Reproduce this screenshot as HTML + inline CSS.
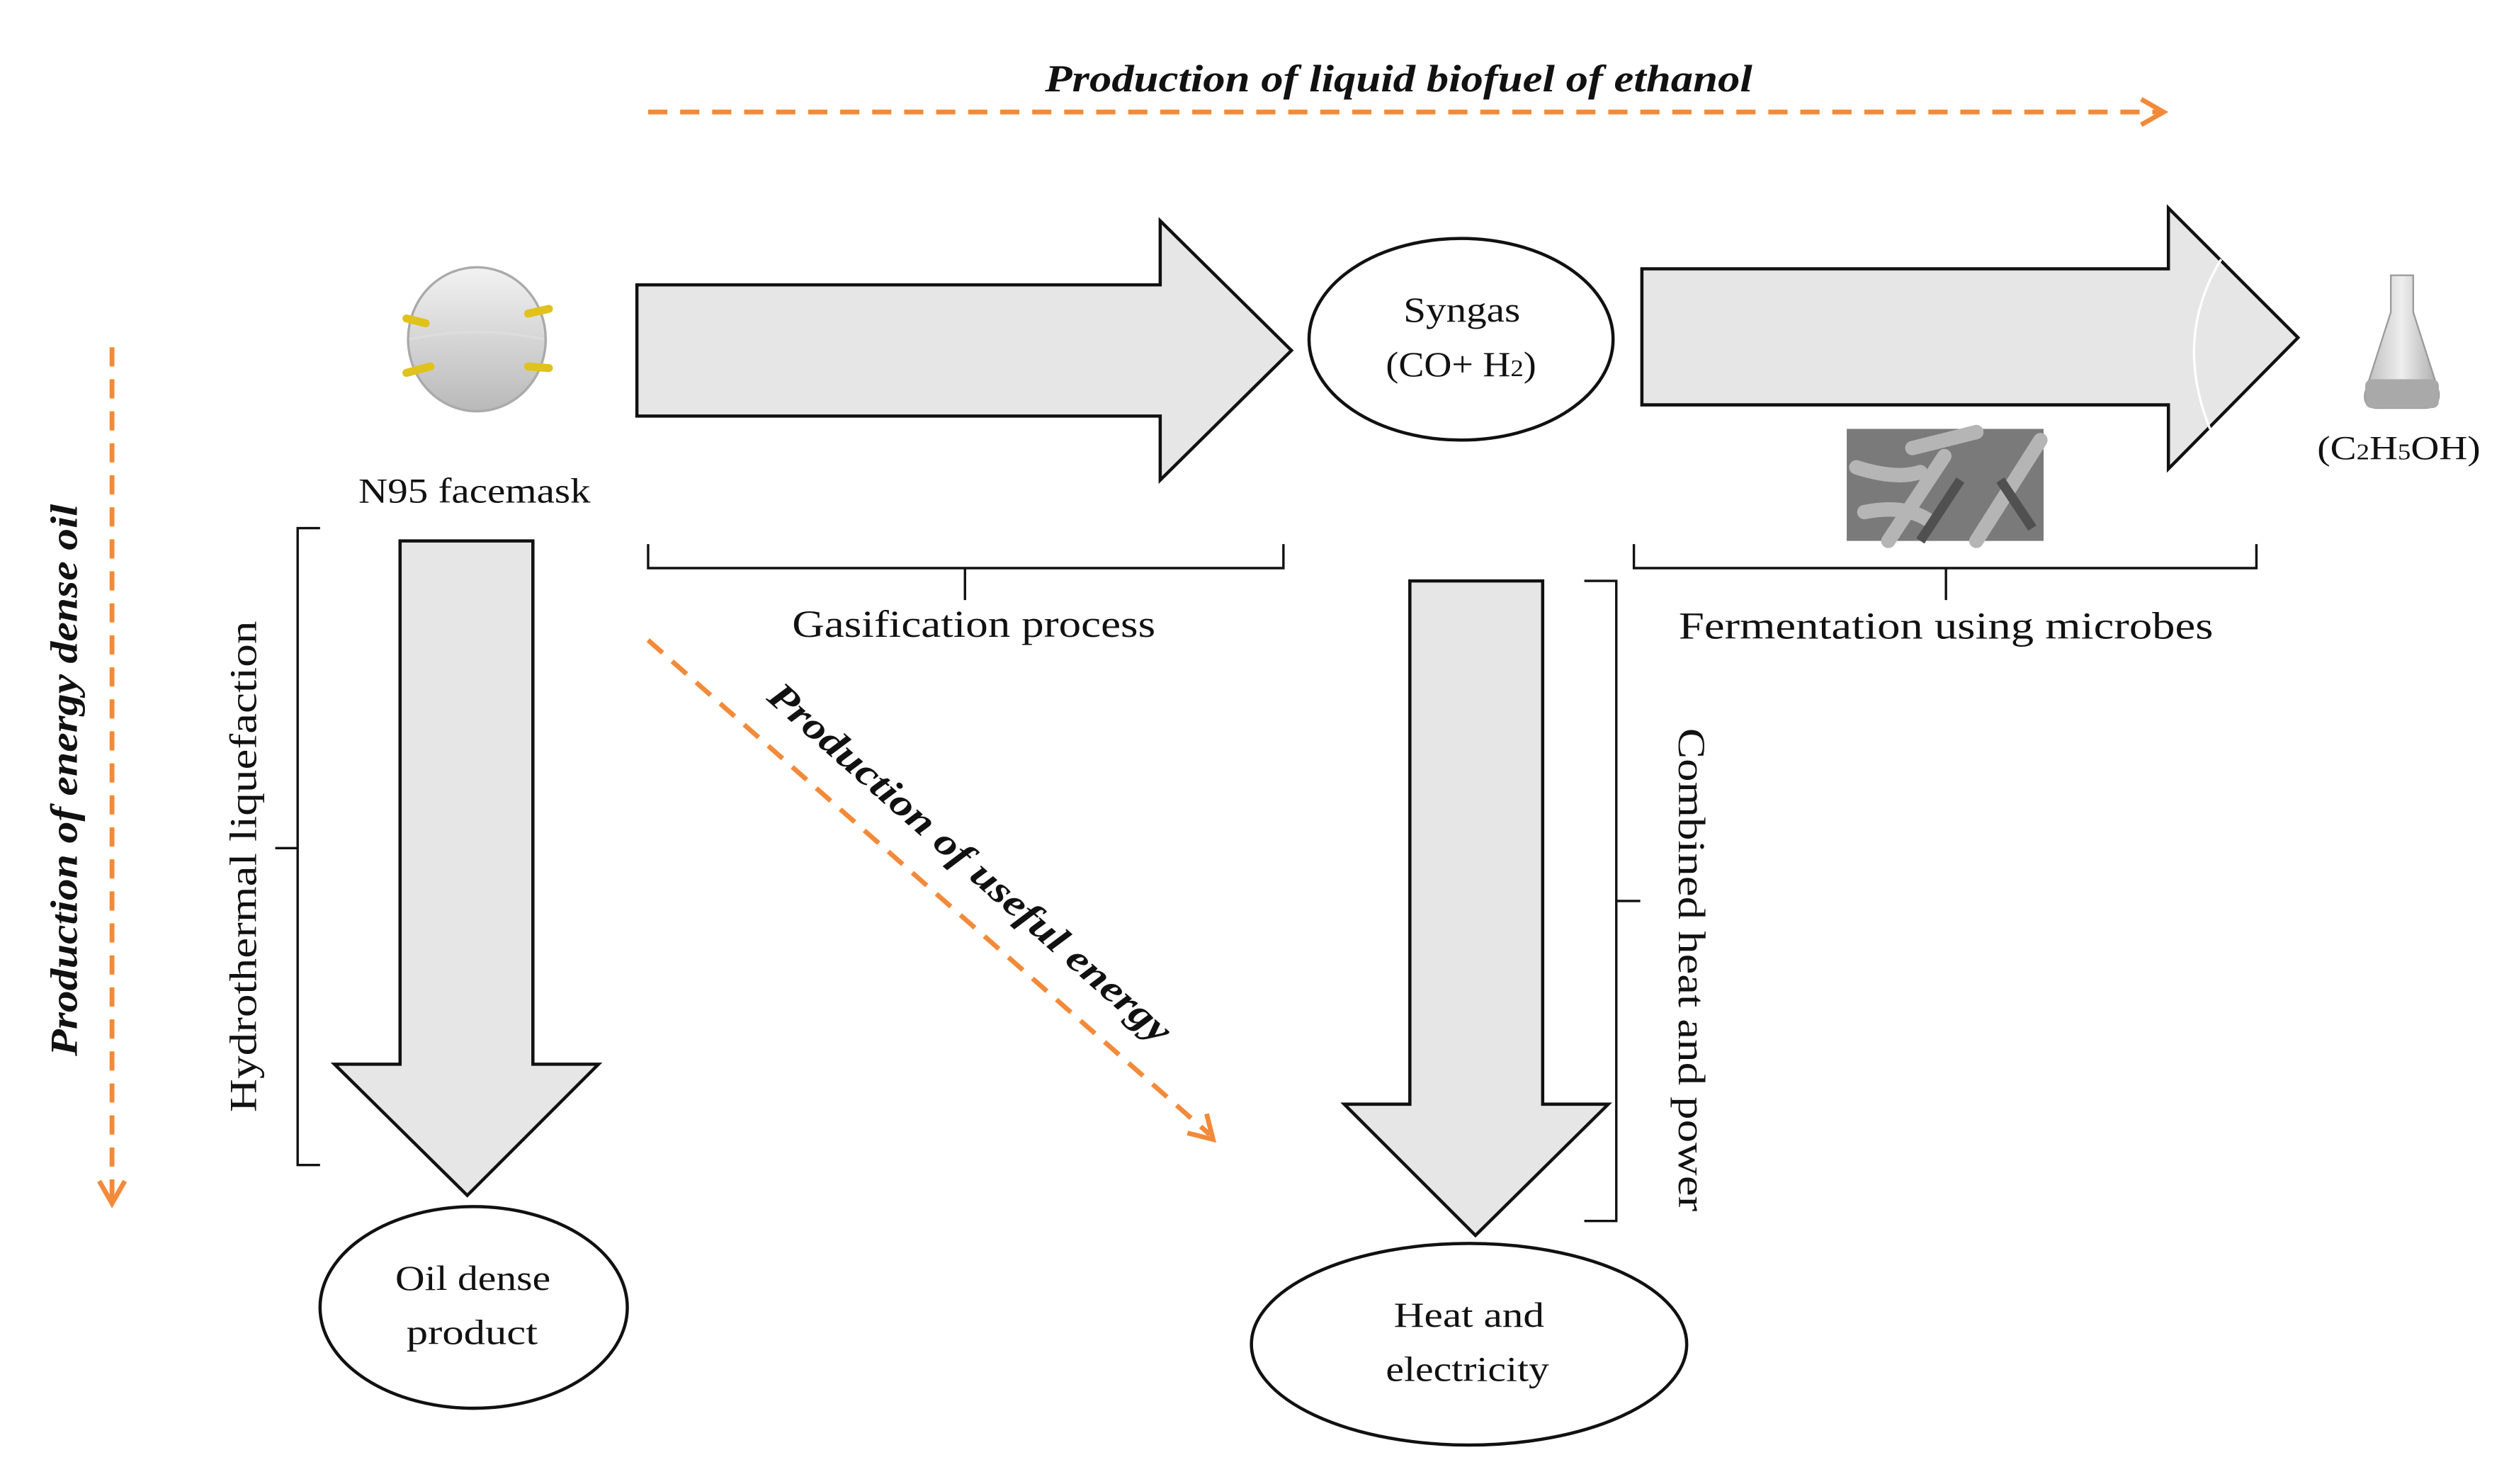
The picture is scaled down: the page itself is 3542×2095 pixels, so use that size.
<!DOCTYPE html>
<html><head><meta charset="utf-8"><style>
html,body{margin:0;padding:0;background:#fff}
svg{display:block}
text{font-family:"Liberation Serif",serif;fill:#111}
</style></head><body>
<svg width="3542" height="2095" viewBox="0 0 1560 922.7" preserveAspectRatio="none" xmlns="http://www.w3.org/2000/svg">
<defs>
<linearGradient id="mg" x1="0" y1="0" x2="0" y2="1"><stop offset="0" stop-color="#f2f2f2"/><stop offset="1" stop-color="#b9b9b9"/></linearGradient>
<linearGradient id="fg" x1="0" y1="0" x2="1" y2="0"><stop offset="0" stop-color="#bbb"/><stop offset=".5" stop-color="#eee"/><stop offset="1" stop-color="#aaa"/></linearGradient>
</defs>
<g transform="scale(0.995)">
<!-- top dashed arrow -->
<line x1="405" y1="70" x2="1350" y2="70" stroke="#f28a3a" stroke-width="3" stroke-dasharray="12,8"/>
<polyline points="1338,62 1352,70 1338,78" fill="none" stroke="#f28a3a" stroke-width="3"/>
<text x="653" y="57" font-size="24" font-style="italic" font-weight="bold" textLength="442" lengthAdjust="spacingAndGlyphs">Production of liquid biofuel of ethanol</text>
<!-- big arrow 1 -->
<polygon points="398,178 725,178 725,138 807,219 725,300 725,260 398,260" fill="#e6e6e6" stroke="#111" stroke-width="2"/>
<!-- syngas -->
<ellipse cx="913" cy="212" rx="95" ry="63" fill="#fff" stroke="#111" stroke-width="2"/>
<text x="877" y="201" font-size="22" textLength="73" lengthAdjust="spacingAndGlyphs">Syngas</text>
<text x="866" y="235" font-size="22" textLength="94" lengthAdjust="spacingAndGlyphs">(CO+ H<tspan font-size="15">2</tspan>)</text>
<!-- big arrow 2 -->
<polygon points="1026,168 1355,168 1355,130 1436,211 1355,293 1355,253 1026,253" fill="#e6e6e6" stroke="#111" stroke-width="2"/>
<path d="M1388,162 Q1358,211 1381,268" fill="none" stroke="#fff" stroke-width="1.5"/>
<!-- bacteria image -->
<rect x="1154" y="268" width="123" height="70" fill="#7a7a7a"/>
<path d="M1160,292 Q1185,300 1200,295 M1195,280 Q1215,275 1235,270 M1180,338 L1215,285 M1235,338 L1275,275 M1165,320 Q1190,315 1205,325" stroke="#b5b5b5" stroke-width="9" fill="none" stroke-linecap="round"/>
<path d="M1200,338 L1225,300 M1250,300 L1270,330" stroke="#505050" stroke-width="6" fill="none"/>
<!-- flask -->
<path d="M1494,172 L1508,172 L1508,195 L1524,245 Q1525,255 1515,255 L1486,255 Q1476,255 1478,245 L1494,195 Z" fill="url(#fg)" stroke="#999" stroke-width="1"/>
<rect x="1478" y="237" width="46" height="18" rx="4" fill="#a9a9a9"/>
<text x="1448" y="287" font-size="21" textLength="102" lengthAdjust="spacingAndGlyphs">(C<tspan font-size="14">2</tspan>H<tspan font-size="14">5</tspan>OH)</text>
<!-- mask -->
<ellipse cx="298" cy="212" rx="43" ry="45" fill="url(#mg)" stroke="#aaa" stroke-width="1.5"/>
<path d="M256,212 Q298,203 340,212" stroke="#ddd" stroke-width="1.5" fill="none"/>
<g stroke="#e0c21a" stroke-width="5" stroke-linecap="round"><line x1="254" y1="199" x2="266" y2="202"/><line x1="254" y1="233" x2="269" y2="229"/><line x1="330" y1="196" x2="343" y2="193"/><line x1="330" y1="229" x2="343" y2="230"/></g>
<text x="224" y="314" font-size="22" textLength="145" lengthAdjust="spacingAndGlyphs">N95 facemask</text>
<!-- brace gasification -->
<path d="M405,340 L405,355 L603,355 L603,375 M603,355 L802,355 L802,340" fill="none" stroke="#111" stroke-width="1.5"/>
<text x="495" y="398" font-size="24" textLength="227" lengthAdjust="spacingAndGlyphs">Gasification process</text>
<!-- brace fermentation -->
<path d="M1021,340 L1021,355 L1216,355 L1216,375 M1216,355 L1410,355 L1410,340" fill="none" stroke="#111" stroke-width="1.5"/>
<text x="1049" y="399" font-size="24" textLength="334" lengthAdjust="spacingAndGlyphs">Fermentation using microbes</text>
<!-- left dashed -->
<line x1="70" y1="217" x2="70" y2="750" stroke="#f28a3a" stroke-width="3" stroke-dasharray="12,8"/>
<polyline points="62,738 70,752 78,738" fill="none" stroke="#f28a3a" stroke-width="3"/>
<text transform="translate(48,660) rotate(-90)" font-size="24" font-style="italic" font-weight="bold" textLength="345" lengthAdjust="spacingAndGlyphs">Production of energy dense oil</text>
<!-- left brace -->
<path d="M200,330 L186,330 L186,530 L172,530 M186,530 L186,728 L200,728" fill="none" stroke="#111" stroke-width="1.5"/>
<text transform="translate(160,695) rotate(-90)" font-size="24" textLength="307" lengthAdjust="spacingAndGlyphs">Hydrothermal liquefaction</text>
<!-- down arrow 1 -->
<polygon points="250,338 333,338 333,665 374,665 292,747 209,665 250,665" fill="#e6e6e6" stroke="#111" stroke-width="2"/>
<ellipse cx="296" cy="817" rx="96" ry="63" fill="#fff" stroke="#111" stroke-width="2"/>
<text x="247" y="806" font-size="22" textLength="97" lengthAdjust="spacingAndGlyphs">Oil dense</text>
<text x="254" y="840" font-size="22" textLength="82" lengthAdjust="spacingAndGlyphs">product</text>
<!-- diagonal -->
<line x1="405" y1="400" x2="756" y2="709" stroke="#f28a3a" stroke-width="3" stroke-dasharray="12,8"/>
<polyline points="742,708 758,712 754,696" fill="none" stroke="#f28a3a" stroke-width="3"/>
<text transform="translate(601,545) rotate(41.4)" font-size="24" font-style="italic" font-weight="bold" text-anchor="middle" textLength="327" lengthAdjust="spacingAndGlyphs">Production of useful energy</text>
<!-- down arrow 2 -->
<polygon points="881,363 964,363 964,690 1005,690 922,772 840,690 881,690" fill="#e6e6e6" stroke="#111" stroke-width="2"/>
<ellipse cx="918" cy="840" rx="136" ry="63" fill="#fff" stroke="#111" stroke-width="2"/>
<text x="871" y="829" font-size="22" textLength="94" lengthAdjust="spacingAndGlyphs">Heat and</text>
<text x="866" y="863" font-size="22" textLength="102" lengthAdjust="spacingAndGlyphs">electricity</text>
<!-- right brace -->
<path d="M990,363 L1010,363 L1010,563 L1025,563 M1010,563 L1010,763 L990,763" fill="none" stroke="#111" stroke-width="1.5"/>
<text transform="translate(1049,455) rotate(90)" font-size="24" textLength="302" lengthAdjust="spacingAndGlyphs">Combined heat and power</text>
</g>
</svg>
</body></html>
